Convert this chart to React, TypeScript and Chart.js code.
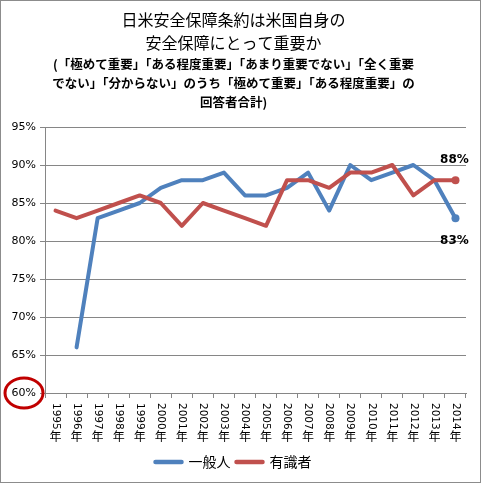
import { useEffect, useRef } from "react";
import { Chart, registerables } from "chart.js";

Chart.register(...registerables);

const years = [
  "1995年", "1996年", "1997年", "1998年", "1999年", "2000年", "2001年",
  "2002年", "2003年", "2004年", "2005年", "2006年", "2007年", "2008年",
  "2009年", "2010年", "2011年", "2012年", "2013年", "2014年",
];
// 一般人
const ippanjin = [null, 66, 83, 84, 85, 87, 88, 88, 89, 86, 86, 87, 89, 84, 90, 88, 89, 90, 88, 83];
// 有識者
const yushikisha = [84, 83, 84, 85, 86, 85, 82, 85, 84, 83, 82, 88, 88, 87, 89, 89, 90, 86, 88, 88];

const titleLines = ["日米安全保障条約は米国自身の", "安全保障にとって重要か"];
const subtitleLines = [
  "(「極めて重要」「ある程度重要」「あまり重要でない」「全く重要",
  "でない」「分からない」のうち「極めて重要」「ある程度重要」の",
  "回答者合計)",
];

const BLUE = "#4F81BD";
const RED = "#C0504D";
const GRID = "#868686";
const JP = "'Noto Sans CJK JP', sans-serif";

// draws vertical year labels, end-value labels and the red circle on 60%
const extrasPlugin = {
  id: "extras",
  afterDraw(chart: any) {
    const { ctx } = chart;
    const x = chart.scales.x;
    const y = chart.scales.y;

    // x labels: digits turned clockwise, 年 upright below
    ctx.save();
    ctx.fillStyle = "#000";
    years.forEach((label, i) => {
      const px = x.getPixelForValue(i);
      const top = x.top + 10;
      const digits = label.replace("年", "");
      ctx.font = "10.5px 'DejaVu Sans'";
      const w = ctx.measureText(digits).width;
      ctx.save();
      ctx.translate(px, top);
      ctx.rotate(Math.PI / 2);
      ctx.textAlign = "left";
      ctx.textBaseline = "middle";
      ctx.fillText(digits, 0, 0);
      ctx.restore();
      ctx.font = "12px " + JP;
      ctx.textAlign = "center";
      ctx.textBaseline = "middle";
      ctx.fillText("年", px, top + w + 7);
    });
    ctx.restore();

    // end-point value labels
    const last = years.length - 1;
    ctx.save();
    ctx.font = "bold 12px 'DejaVu Sans'";
    ctx.fillStyle = "#000";
    ctx.textAlign = "center";
    ctx.textBaseline = "middle";
    const redPt = chart.getDatasetMeta(1).data[last];
    const bluePt = chart.getDatasetMeta(0).data[last];
    ctx.fillText(yushikisha[last] + "%", redPt.x - 1, redPt.y - 20);
    ctx.fillText(ippanjin[last] + "%", bluePt.x - 1, bluePt.y + 23);
    ctx.restore();

    // red circle around the 60% tick label
    ctx.save();
    ctx.strokeStyle = "#C00000";
    ctx.lineWidth = 3;
    ctx.beginPath();
    ctx.ellipse(y.right - 21, y.getPixelForValue(60), 19, 15, 0, 0, Math.PI * 2);
    ctx.stroke();
    ctx.restore();
  },
};

export default function App() {
  const canvasRef = useRef<HTMLCanvasElement>(null);
  const chartInstance = useRef<Chart | null>(null);

  useEffect(() => {
    document.body.style.margin = "0";
    if (!canvasRef.current) return;
    if (chartInstance.current) chartInstance.current.destroy();

    const last = years.length - 1;
    const endOnly = years.map((_, i) => (i === last ? 4 : 0));

    chartInstance.current = new Chart(canvasRef.current, {
      type: "line",
      data: {
        labels: years,
        datasets: [
          {
            label: "一般人",
            data: ippanjin,
            borderColor: BLUE,
            backgroundColor: BLUE,
            borderWidth: 4,
            borderCapStyle: "round",
            borderJoinStyle: "round",
            pointRadius: endOnly,
            pointBorderWidth: 0,
            tension: 0,
            order: 1,
          },
          {
            label: "有識者",
            data: yushikisha,
            borderColor: RED,
            backgroundColor: RED,
            borderWidth: 4,
            borderCapStyle: "round",
            borderJoinStyle: "round",
            pointRadius: endOnly,
            pointBorderWidth: 0,
            tension: 0,
            order: 0,
          },
        ],
      },
      options: {
        responsive: true,
        maintainAspectRatio: false,
        animation: false,
        layout: { padding: { left: 0, right: 14, top: 0, bottom: 3 } },
        scales: {
          x: {
            offset: true,
            grid: {
              offset: true,
              drawOnChartArea: false,
              color: GRID,
              tickLength: 5,
            },
            border: { color: GRID },
            ticks: { display: false },
            afterFit: (scale: any) => {
              scale.height = 56;
            },
          },
          y: {
            min: 60,
            max: 95,
            grid: { color: GRID, tickLength: 5 },
            border: { color: GRID },
            ticks: {
              stepSize: 5,
              padding: 4,
              color: "#000",
              font: { family: "'DejaVu Sans'", size: 11 },
              callback: (v: any) => v + "%",
            },
            afterFit: (scale: any) => {
              scale.width = 44;
            },
          },
        },
        plugins: {
          title: {
            display: true,
            text: titleLines,
            color: "#000",
            font: { family: JP, size: 16, weight: "normal", lineHeight: "23px" },
            padding: { top: 7.5, bottom: 0 },
          },
          subtitle: {
            display: true,
            text: subtitleLines,
            color: "#000",
            font: { family: JP, size: 12.5, weight: "bold", lineHeight: "19px" },
            padding: { top: 0, bottom: 15.5 },
          },
          legend: {
            position: "bottom",
            labels: {
              usePointStyle: true,
              pointStyle: "line",
              pointStyleWidth: 26,
              padding: 6,
              color: "#000",
              font: { family: JP, size: 14 },
              sort: (a: any, b: any) => a.datasetIndex - b.datasetIndex,
              generateLabels: (chart: any) =>
                Chart.defaults.plugins.legend.labels
                  .generateLabels(chart)
                  .map((item: any) => ({
                    ...item,
                    lineWidth: 4.5,
                    lineCap: "round",
                    strokeStyle: chart.data.datasets[item.datasetIndex].borderColor,
                  })),
            },
          },
          tooltip: { enabled: false },
        },
      },
      plugins: [extrasPlugin],
    });

    return () => {
      if (chartInstance.current) {
        chartInstance.current.destroy();
        chartInstance.current = null;
      }
    };
  }, []);

  return (
    <div
      style={{
        position: "relative",
        width: 479,
        height: 481,
        border: "1px solid #8c8c8c",
        background: "#fff",
      }}
    >
      <canvas ref={canvasRef}></canvas>
    </div>
  );
}
